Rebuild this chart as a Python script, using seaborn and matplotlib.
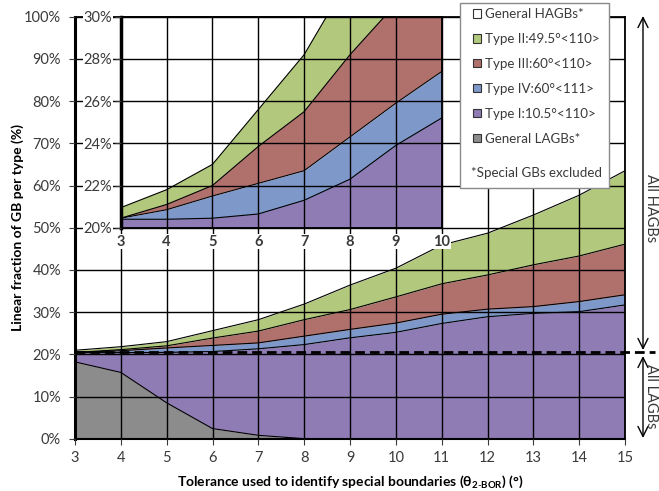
import numpy as np
import pandas as pd
import matplotlib
matplotlib.use("Agg")
import matplotlib.pyplot as plt
import seaborn as sns
from matplotlib.patches import Patch, Rectangle

# ---------------- data (percent of GB length) ----------------
tolerance = [3, 4, 5, 6, 7, 8, 9, 10, 11, 12, 13, 14, 15]
general_lagb = [18.2, 15.7, 8.5, 2.4, 0.8, 0, 0, 0, 0, 0, 0, 0, 0]
type_i = [2.2, 4.7, 11.95, 18.25, 20.5, 22.3, 23.9, 25.2, 27.3, 28.9, 29.7, 30.1, 31.7]
type_iv = [0.05, 0.45, 1.05, 1.45, 1.4, 2.0, 2.0, 2.2, 2.2, 1.8, 1.6, 2.4, 2.4]
type_iii = [0.0, 0.25, 0.5, 1.75, 2.8, 3.9, 4.7, 6.2, 7.2, 8.1, 9.9, 10.8, 12.0]
type_ii = [0.5, 0.7, 1.0, 1.75, 2.7, 3.7, 5.8, 6.8, 9.2, 9.9, 11.8, 14.4, 17.4]
lagb_hagb_split = 20.5

layer_names = ["General LAGBs*", "Type I:10.5°<110>", "Type IV:60°<111>",
               "Type III:60°<110>", "Type II:49.5°<110>", "General HAGBs*"]
layer_colors = ["#8C8C8C", "#8F7CB4", "#7D98C9", "#B0716D", "#B2C97D", "#FFFFFF"]

sns.set_theme(style="white")
plt.rcParams["font.family"] = ["Lato", "DejaVu Sans"]
plt.rcParams["mathtext.fontset"] = "custom"
plt.rcParams["mathtext.rm"] = "Lato"
plt.rcParams["mathtext.bf"] = "Lato:bold"
plt.rcParams["mathtext.it"] = "Lato:italic"

df = pd.DataFrame({"tol": tolerance, "General LAGBs*": general_lagb,
                   "Type I:10.5°<110>": type_i, "Type IV:60°<111>": type_iv,
                   "Type III:60°<110>": type_iii, "Type II:49.5°<110>": type_ii})
df["General HAGBs*"] = 100 - df[layer_names[:-1]].sum(axis=1)

TXT = "#3A3A3A"
GRID = (0, 0, 0, 0.34)
FS = 10


def draw_stack(ax):
    x = df["tol"].values
    lower = np.zeros(len(x))
    for name, col in zip(layer_names, layer_colors):
        upper = lower + df[name].values
        ax.fill_between(x, lower, upper, color=col, lw=0, zorder=1)
        if name != "General HAGBs*":
            sns.lineplot(x=x, y=upper, ax=ax, color="black", lw=0.8, zorder=3,
                         legend=False)
        lower = upper
    ax.set_axisbelow(False)
    ax.grid(True, color=GRID, lw=1.0)
    ax.set_xlabel("")
    ax.set_ylabel("")


fig = plt.figure(figsize=(6.59, 4.91), dpi=100)
W, H = 659, 491
ax = fig.add_axes([75 / W, 1 - 438.7 / H, 550 / W, 422 / H])
draw_stack(ax)
ax.set_xlim(3, 15)
ax.set_ylim(0, 100)
ax.set_xticks(tolerance)
ax.set_yticks(np.arange(0, 101, 10))
ax.set_yticklabels([f"{v}%" for v in range(0, 101, 10)])
ax.tick_params(axis="both", which="major", labelsize=FS + 0.5, colors=TXT,
               length=4, width=0.8, direction="out", bottom=True, left=True)
ax.tick_params(axis="x", pad=5)
ax.tick_params(axis="y", pad=6)
for s in ["top", "right"]:
    ax.spines[s].set_color("black"); ax.spines[s].set_linewidth(1.3)
ax.spines["left"].set_color("black"); ax.spines["left"].set_linewidth(2.2)
ax.spines["bottom"].set_color("black"); ax.spines["bottom"].set_linewidth(1.5)
ax.set_ylabel("Linear fraction of GB per type (%)", fontsize=FS,
              fontweight="bold", color="black", labelpad=0)
ax.set_xlabel(r"Tolerance used to identify special boundaries ($\mathbf{\theta_{2\text{-}BOR}}$) (°)",
              fontsize=FS, fontweight="bold", color="black", labelpad=6)

# LAGB / HAGB split line
ax.plot([3, 15 + 30 / 45.83], [lagb_hagb_split] * 2, color="black", lw=2,
        ls=(0, (3.5, 1.8)), clip_on=False, zorder=6)

# inset
axi = fig.add_axes([120.7 / W, 1 - 227.7 / H, 321 / W, 211 / H])
draw_stack(axi)
axi.set_xlim(3, 10)
axi.set_ylim(20, 30)
axi.set_xticks(tolerance[:8])
axi.set_yticks(np.arange(20, 31, 2))
axi.set_yticklabels([f"{v}%" for v in range(20, 31, 2)])
axi.tick_params(axis="both", labelsize=FS + 0.5, colors=TXT, length=4, width=0.8,
                direction="out", bottom=False, left=True)
axi.tick_params(axis="y", pad=2)
axi.tick_params(axis="x", pad=1)
for lab in axi.get_xticklabels():
    lab.set_fontweight("bold")
    lab.set_bbox(dict(facecolor="white", edgecolor="none", pad=0.5))
for lab in axi.get_yticklabels():
    lab.set_bbox(dict(facecolor="white", edgecolor="none", pad=0.5))
for s in ["top", "right", "bottom"]:
    axi.spines[s].set_color("black"); axi.spines[s].set_linewidth(1.3)
axi.spines["left"].set_color("black"); axi.spines["left"].set_linewidth(2.5)

# legend box
LFS = 9.6
fig.patches.append(Rectangle((460 / W, 1 - 188 / H), 149 / W, 185 / H,
                             transform=fig.transFigure, facecolor="white",
                             edgecolor="#8A8A8A", lw=1.0, zorder=4))
leg_order = ["General HAGBs*", "Type II:49.5°<110>", "Type III:60°<110>",
             "Type IV:60°<111>", "Type I:10.5°<110>", "General LAGBs*"]
cmap = dict(zip(layer_names, layer_colors))
handles = [Patch(facecolor=cmap[n], edgecolor="#333333", lw=0.8) for n in leg_order]
leg = fig.legend(handles, leg_order, loc="upper left",
                 bbox_to_anchor=(473 / W, 1 - 8 / H), frameon=False,
                 fontsize=LFS, handlelength=0.62, handleheight=0.62,
                 handletextpad=0.3, labelspacing=0.97, borderpad=0,
                 borderaxespad=0)
leg.set_zorder(5)
for t in leg.get_texts():
    t.set_color(TXT)
fig.text(471 / W, 1 - 173 / H, "*Special GBs excluded", fontsize=LFS,
         color=TXT, va="center", ha="left", zorder=6)

# right-side annotations
ax.annotate("", xy=(643 / W, 1 - 16 / H), xytext=(643 / W, 1 - 350 / H),
            xycoords="figure fraction", textcoords="figure fraction",
            arrowprops=dict(arrowstyle="<->,head_length=0.6,head_width=0.3",
                            color="black", lw=1.0, shrinkA=0, shrinkB=0))
ax.annotate("", xy=(643 / W, 1 - 356 / H), xytext=(643 / W, 1 - 438 / H),
            xycoords="figure fraction", textcoords="figure fraction",
            arrowprops=dict(arrowstyle="<->,head_length=0.6,head_width=0.3",
                            color="black", lw=1.0, shrinkA=0, shrinkB=0))
fig.text(651 / W, 1 - 208 / H, "All HAGBs", rotation=270, fontsize=FS + 0.5,
         color=TXT, ha="center", va="center")
fig.text(651 / W, 1 - 396 / H, "All LAGBs", rotation=270, fontsize=FS + 0.5,
         color=TXT, ha="center", va="center")

fig.savefig("out.png", dpi=100)
